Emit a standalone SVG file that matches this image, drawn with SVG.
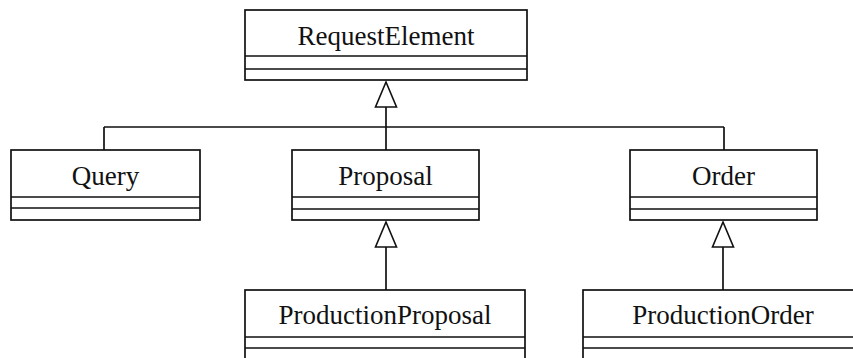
<svg xmlns="http://www.w3.org/2000/svg" width="853" height="358" viewBox="0 0 853 358">
<style>
.box{fill:#fff;stroke:#111;stroke-width:1.7}
.sep{stroke:#111;stroke-width:1.7;fill:none}
.lbl{font-family:"Liberation Serif","Times New Roman",serif;font-size:27px;fill:#111;text-anchor:middle}
.con{stroke:#111;stroke-width:1.7;fill:none}
.tri{fill:#fff;stroke:#111;stroke-width:1.6;stroke-linejoin:miter}
</style>
<rect width="853" height="358" fill="#fff"/>
<g id="connectors">
<path class="con" d="M104,127 H724 M104,127 V150 M386,107 V150 M724,127 V150"/>
<polygon class="tri" points="386,82 375.5,107 396.5,107"/>
<path class="con" d="M386,247 V290"/>
<polygon class="tri" points="386,222 375.5,247 396.5,247"/>
<path class="con" d="M723,247 V290"/>
<polygon class="tri" points="723,222 712.5,247 733.5,247"/>
</g>
<g id="RequestElement">
<rect class="box" x="245" y="10" width="282" height="70"/>
<path class="sep" d="M245,56 H527 M245,69 H527"/>
<text class="lbl" x="386" y="45">RequestElement</text>
</g>
<g id="Query">
<rect class="box" x="11" y="150" width="189" height="70"/>
<path class="sep" d="M11,197 H200 M11,208 H200"/>
<text class="lbl" x="105.5" y="185">Query</text>
</g>
<g id="Proposal">
<rect class="box" x="292" y="150" width="187" height="70"/>
<path class="sep" d="M292,197 H479 M292,209 H479"/>
<text class="lbl" x="385.5" y="185">Proposal</text>
</g>
<g id="Order">
<rect class="box" x="630" y="150" width="187" height="70"/>
<path class="sep" d="M630,197 H817 M630,209 H817"/>
<text class="lbl" x="723.5" y="185">Order</text>
</g>
<g id="ProductionProposal">
<rect class="box" x="245" y="290" width="280" height="80"/>
<path class="sep" d="M245,337 H525 M245,348 H525"/>
<text class="lbl" x="385" y="324">ProductionProposal</text>
</g>
<g id="ProductionOrder">
<rect class="box" x="583" y="290" width="290" height="80"/>
<path class="sep" d="M583,337 H873 M583,348 H873"/>
<text class="lbl" x="723" y="324">ProductionOrder</text>
</g>
</svg>
